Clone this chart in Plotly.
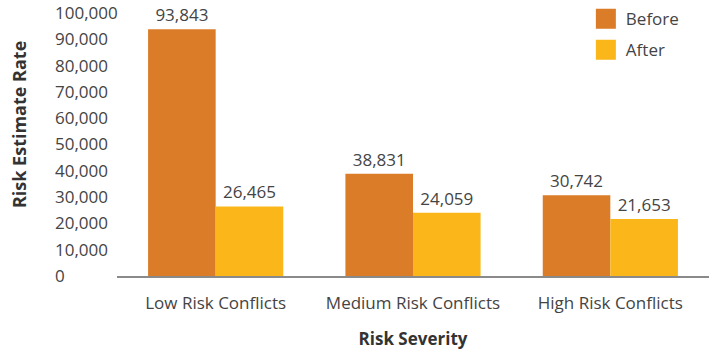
import plotly.graph_objects as go

categories = ["Low Risk Conflicts", "Medium Risk Conflicts", "High Risk Conflicts"]
before = [93843, 38831, 30742]
after = [26465, 24059, 21653]
series_names = ["Before", "After"]
colors = ["#DB7C28", "#FBB71A"]
y_ticks = [0, 10000, 20000, 30000, 40000, 50000, 60000, 70000, 80000, 90000, 100000]

FONT = "Open Sans"
TXT = "#444444"
fig = go.Figure()
for name, vals, col in zip(series_names, [before, after], colors):
    fig.add_trace(go.Bar(
        x=categories, y=vals, name=name, marker_color=col, marker_line_width=0,
        text=[f"{v:,}" for v in vals], textposition="outside", cliponaxis=False,
        textfont=dict(family=FONT, size=17, color=TXT), showlegend=False,
    ))
    fig.add_trace(go.Scatter(
        x=[None], y=[None], mode="markers", name=name, legendgroup=name,
        marker=dict(symbol="square", size=16, color=col, line=dict(color=col, width=4)),
    ))

fig.update_layout(
    width=709, height=353,
    margin=dict(l=117, r=0, t=13, b=77),
    plot_bgcolor="white", paper_bgcolor="white",
    barmode="group", bargap=0.315, bargroupgap=0,
    font=dict(family=FONT, size=17, color=TXT),
    legend=dict(x=0.792, xanchor="left", y=1.045, yanchor="top", bgcolor="rgba(0,0,0,0)",
                font=dict(family=FONT, size=17, color=TXT), tracegroupgap=6),
    showlegend=True,
    annotations=[dict(
        text="<b>Risk Estimate Rate</b>", textangle=-90, xref="paper", yref="paper",
        x=-0.1655, y=0.574, xanchor="center", yanchor="middle", showarrow=False,
        font=dict(family=FONT, size=18, color="#333333"),
    )],
)
fig.update_xaxes(
    range=[-0.5, 2.5],
    showline=True, linecolor="#8a8a8a", linewidth=1.5, ticks="", showgrid=False,
    automargin=False, ticklabelstandoff=11,
    tickfont=dict(family=FONT, size=17, color=TXT),
    title=dict(text="<b>Risk Severity</b>", font=dict(family=FONT, size=17, color="#333333"), standoff=20),
)
fig.update_yaxes(
    range=[0, 100000], tickvals=y_ticks, ticktext=[f"{v:,}" for v in y_ticks],
    showgrid=False, zeroline=False, showline=False, ticks="", automargin=False,
    ticklabelposition="inside", ticklabelstandoff=-65, ticklabeloverflow="allow",
    tickfont=dict(family=FONT, size=17, color=TXT),
)
fig.write_html("out.html")
